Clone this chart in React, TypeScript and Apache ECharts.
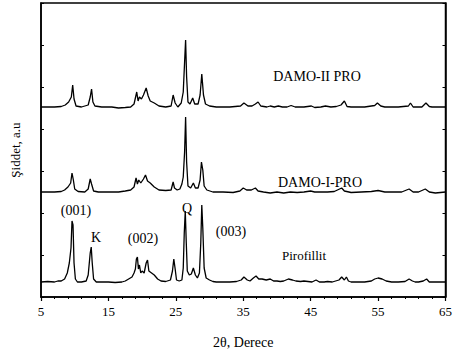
import React, { useEffect, useRef } from "react";
import * as echarts from "echarts";

// XRD patterns: [2θ, intensity above own baseline (a.u.)]
const pirofillit: [number, number][] = [
  [5, 1], [6, 1.5], [7, 1], [7.5, 2], [8, 2], [8.5, 4], [8.9, 10], [9.2, 20], [9.45, 35], [9.6, 62],
  [9.75, 58], [9.9, 20], [10.1, 4], [10.4, 1], [11, 1], [11.7, 2], [12.0, 8], [12.3, 30], [12.45, 36],
  [12.6, 20], [12.8, 4], [13.2, 1], [14, 1], [15, 1], [16, 0.5], [17, 1], [17.5, 2], [18, 4], [18.5, 6],
  [18.8, 10], [19.0, 14], [19.15, 24], [19.3, 26], [19.45, 14], [19.6, 18], [19.8, 10], [20.0, 12],
  [20.3, 10], [20.6, 20], [20.8, 23], [21.0, 12], [21.4, 10], [21.8, 8], [22.3, 4], [22.8, 2], [23.5, 1.5],
  [24.2, 3], [24.5, 12], [24.7, 24], [24.9, 14], [25.1, 3], [25.5, 2], [25.9, 3], [26.1, 15], [26.25, 50],
  [26.4, 72], [26.55, 40], [26.7, 12], [27.0, 8], [27.3, 9], [27.6, 15], [27.9, 8], [28.2, 5], [28.5, 10],
  [28.7, 40], [28.85, 78], [29.0, 55], [29.2, 15], [29.5, 5], [30, 3], [30.5, 1.5], [31, 1], [32, 1],
  [33, 1], [34, 1.5], [34.7, 3], [35.1, 6], [35.6, 3], [36, 2], [36.5, 5], [36.9, 7], [37.3, 4], [37.8, 4],
  [38.4, 3], [39, 4], [39.5, 2], [40, 2], [40.5, 1.5], [41, 2], [41.7, 4], [42.3, 3], [42.8, 2], [43.5, 1.5],
  [44, 2], [44.6, 1.5], [45.2, 1], [45.8, 3], [46.3, 1], [47, 1], [47.5, 1.5], [48.2, 1], [49.2, 3],
  [49.6, 6], [50.0, 3], [50.3, 6], [50.6, 2], [51, 1], [52, 1], [53, 1], [54, 2], [54.5, 4], [55, 5],
  [55.6, 4], [56.2, 2], [57, 1], [58, 1], [59, 1.5], [59.6, 4], [60.1, 2], [60.5, 1], [61, 1], [61.7, 2],
  [62.2, 4], [62.6, 1], [63.5, 1], [64.5, 1], [65, 1],
];

const damoI: [number, number][] = [
  [5, 0], [7, 0], [8, 0.5], [8.5, 2], [9, 5], [9.4, 9], [9.6, 19], [9.8, 12], [10.0, 3], [10.5, 0.5],
  [11.5, 0], [12.0, 3], [12.3, 13], [12.5, 8], [12.8, 1], [13.5, 0], [15, 0], [16.5, 0], [17.5, 1],
  [18.3, 2], [18.8, 5], [19.1, 14], [19.3, 8], [19.5, 12], [19.8, 9], [20.2, 13], [20.5, 17], [20.8, 11],
  [21.2, 9], [21.8, 5], [22.5, 2], [23.5, 1.5], [24.3, 2], [24.6, 10], [24.8, 4], [25.2, 2], [25.6, 3],
  [25.9, 8], [26.1, 15], [26.3, 40], [26.45, 75], [26.6, 30], [26.8, 6], [27.2, 4], [27.6, 9], [27.9, 4],
  [28.3, 4], [28.6, 12], [28.8, 30], [29.0, 22], [29.2, 6], [29.6, 2], [30.5, 0], [32, 0], [33.5, -0.5],
  [34.5, 1], [35, 4], [35.5, 2], [36.2, 2], [36.8, 4], [37.2, 1], [38, 0], [39, -1], [40, 0], [41, -1],
  [42, 0], [43, -0.5], [44, 0], [45, 1], [45.6, 0], [46.5, 0], [47.5, 0], [48.5, 0.5], [49.6, 4], [50, 1],
  [51, -0.5], [52.5, 0], [54, 0.5], [55, 1.5], [56, 0], [57, 0], [58.5, 0], [59.6, 3], [60.2, 0], [61, 0],
  [62, 3], [62.6, 0], [63.5, -1], [65, 0],
];

const damoII: [number, number][] = [
  [5, 0], [7, 0], [8, 0.5], [8.6, 2], [9.1, 5], [9.5, 10], [9.7, 22], [9.9, 8], [10.2, 1], [11, 0],
  [12.0, 2], [12.3, 10], [12.5, 18], [12.7, 5], [13.0, 1], [14, 0], [15.5, 0], [16.5, -1], [17.5, -0.5],
  [18.3, 0], [18.8, 3], [19.2, 15], [19.4, 6], [19.6, 10], [19.9, 8], [20.2, 12], [20.6, 19], [20.9, 11],
  [21.2, 6], [21.8, 4], [22.5, 1], [23.5, 0], [24.3, 1], [24.6, 12], [24.9, 4], [25.3, 0], [25.8, 4],
  [26.1, 15], [26.3, 45], [26.45, 67], [26.6, 30], [26.8, 5], [27.1, 3], [27.5, 9], [27.8, 3], [28.3, 3],
  [28.6, 12], [28.85, 33], [29.1, 12], [29.4, 3], [30, 1], [31, 0], [33, 0], [34.6, 1], [35.1, 4],
  [35.7, 1], [36.3, 1], [36.8, 3], [37.2, 5], [37.6, 1], [38.5, 0], [39, 1], [39.6, 0], [40.2, 1],
  [40.8, 0], [41.5, 0], [42.1, 1.5], [42.7, 0], [44, 0], [45.1, 1], [45.6, -0.5], [46.5, 0], [47.2, 1],
  [48, 0], [48.8, 0.5], [49.5, 2], [50, 6], [50.4, 0.5], [51, 0], [53, 0], [54.5, 1.5], [54.9, 4],
  [55.4, 1], [56, 0], [58, 0], [59.5, 1], [59.8, 4], [60.2, 0], [61.5, 0], [62.1, 4], [62.6, 0.5],
  [63, 0], [65, 0],
];

// vertical stacking offsets of each pattern
const offsets = { pirofillit: 14, damoI: 105, damoII: 190 };

const FONT = "'Liberation Serif', 'Times New Roman', Times, 'DejaVu Serif', serif";

export default function App() {
  const ref = useRef<HTMLDivElement>(null);
  useEffect(() => {
    if (!ref.current) return;
    const chart = echarts.init(ref.current, null, { renderer: "svg" });
    const shift = (d: [number, number][], o: number) => d.map(([x, y]) => [x, y + o]);
    const lineSeries = (name: string, d: number[][]) => ({
      name,
      type: "line",
      data: d,
      showSymbol: false,
      symbol: "none",
      smooth: false,
      lineStyle: { color: "#000", width: 1.3 },
    });
    const txt = (x: number, y: number, text: string, size = 14) => ({
      type: "text",
      x,
      y,
      style: { text, fill: "#000", fontFamily: FONT, fontSize: size, textAlign: "center", textVerticalAlign: "middle" },
    });
    chart.setOption({
      animation: false,
      backgroundColor: "#fff",
      textStyle: { fontFamily: FONT },
      grid: { left: 41, right: 7, top: 3, bottom: 60, show: true, borderColor: "#000", borderWidth: 1.5 },
      xAxis: [
        {
          type: "value",
          min: 5,
          max: 65,
          interval: 10,
          name: "2θ, Derece",
          nameLocation: "middle",
          nameGap: 38,
          nameTextStyle: { fontFamily: FONT, fontSize: 14, color: "#000" },
          axisLine: { lineStyle: { color: "#000", width: 1.5 } },
          axisTick: { show: true, length: 4, lineStyle: { color: "#000", width: 1.2 } },
          minorTick: { show: true, splitNumber: 5, length: 2, lineStyle: { color: "#000" } },
          axisLabel: { fontFamily: FONT, fontSize: 13, color: "#000", margin: 8 },
          splitLine: { show: false },
        },
      ],
      yAxis: [
        {
          type: "value",
          min: 0,
          max: 294,
          interval: 42,
          name: "Şiddet, a.u",
          nameLocation: "middle",
          nameGap: 19,
          nameTextStyle: { fontFamily: FONT, fontSize: 13, color: "#000" },
          axisLine: { show: true, lineStyle: { color: "#000", width: 1.5 } },
          axisTick: { show: true, inside: true, length: 3, lineStyle: { color: "#000" } },
          axisLabel: { show: false },
          splitLine: { show: false },
        },
        {
          type: "value",
          min: 0,
          max: 294,
          interval: 42,
          position: "right",
          axisLine: { show: true, lineStyle: { color: "#000", width: 1.5 } },
          axisTick: { show: true, inside: true, length: 3, lineStyle: { color: "#000" } },
          axisLabel: { show: false },
          splitLine: { show: false },
        },
      ],
      series: [
        lineSeries("Pirofillit", shift(pirofillit, offsets.pirofillit)),
        lineSeries("DAMO-I-PRO", shift(damoI, offsets.damoI)),
        lineSeries("DAMO-II PRO", shift(damoII, offsets.damoII)),
      ],
      graphic: [
        txt(317, 76, "DAMO-II PRO"),
        txt(320, 182, "DAMO-I-PRO"),
        txt(304, 255, "Pirofillit", 13),
        txt(76, 210, "(001)"),
        txt(96, 237, "K"),
        txt(143, 238, "(002)"),
        txt(187, 208, "Q"),
        txt(231, 231, "(003)"),
      ],
    });
    return () => chart.dispose();
  }, []);
  return <div ref={ref} style={{ width: 455, height: 357, position: "absolute", left: 0, top: 0 }} />;
}
